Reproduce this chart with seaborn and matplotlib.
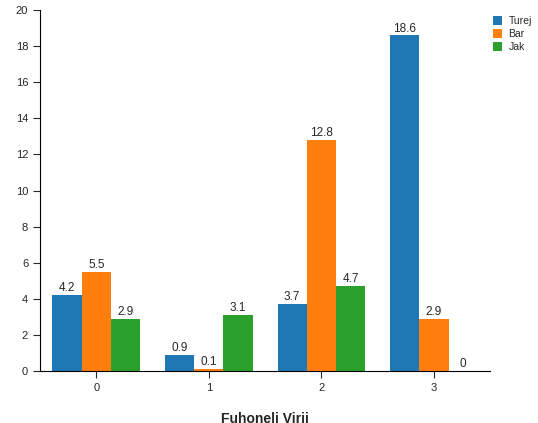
import matplotlib
matplotlib.use('Agg')
import matplotlib.pyplot as plt
import pandas as pd
import seaborn as sns

categories = ['0', '1', '2', '3']
series = ['Turej', 'Bar', 'Jak']
turej = [4.2, 0.9, 3.7, 18.6]
bar = [5.5, 0.1, 12.8, 2.9]
jak = [2.9, 3.1, 4.7, 0]
colors = ['#1f77b4', '#ff7f0e', '#2ca02c']

rows = []
for name, vals in zip(series, [turej, bar, jak]):
    for c, v in zip(categories, vals):
        rows.append({'cat': c, 'series': name, 'value': v})
df = pd.DataFrame(rows)

sns.set_style('white')
plt.rcParams['font.family'] = ['Liberation Sans', 'DejaVu Sans']

fig = plt.figure(figsize=(5.38, 4.23), dpi=100)
ax = fig.add_axes([0.0743, 0.123, 0.837, 0.853])
sns.barplot(data=df, x='cat', y='value', hue='series', palette=colors,
            width=0.78, ax=ax, legend=True, saturation=1, linewidth=0,
            edgecolor='none')

for cont in ax.containers:
    for patch in cont:
        v = patch.get_height()
        lbl = f'{v:g}' if v != 0 else '0'
        ax.text(patch.get_x() + patch.get_width() / 2, v + 0.05, lbl,
                ha='center', va='bottom', fontsize=8.5)

ax.set_ylim(0, 20)
ax.set_xlim(-0.5, 3.5)
ax.set_yticks(range(0, 21, 2))
ax.tick_params(axis='both', labelsize=8, direction='out', length=5, bottom=True, left=True)
ax.set_xlabel('Fuhoneli Virij', fontsize=10, fontweight='bold', labelpad=14)
ax.set_ylabel('')
for s in ['top', 'right']:
    ax.spines[s].set_visible(False)
for s in ['left', 'bottom']:
    ax.spines[s].set_color('black')
    ax.spines[s].set_linewidth(0.8)

handles, labels = ax.get_legend_handles_labels()
ax.legend(handles, labels, loc='upper left', bbox_to_anchor=(0.985, 1.01),
          frameon=False, fontsize=7.5, handlelength=0.9, handleheight=0.9,
          labelspacing=0.3, handletextpad=0.6)

fig.savefig('out.png', dpi=100)
